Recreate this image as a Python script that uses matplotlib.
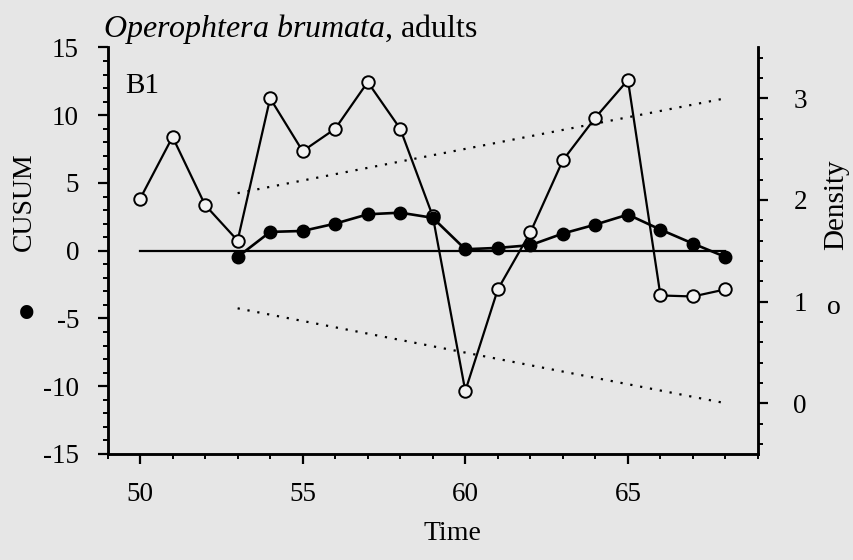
#!/usr/bin/env python3
"""CUSUM and density of Operophtera brumata adults over time."""

import matplotlib
matplotlib.use("Agg")
import matplotlib.pyplot as plt
from matplotlib.ticker import MultipleLocator

plt.rcParams["font.family"] = ["Liberation Serif", "DejaVu Serif"]
plt.rcParams["mathtext.fontset"] = "custom"
plt.rcParams["mathtext.rm"] = "Liberation Serif"
plt.rcParams["mathtext.it"] = "Liberation Serif:italic"

BG = "#e6e6e6"

# density (open circles, right axis)
density_time = [50, 51, 52, 53, 54, 55, 56, 57, 58, 59,
                60, 61, 62, 63, 64, 65, 66, 67, 68]
density = [2.01, 2.62, 1.95, 1.60, 3.00, 2.48, 2.70, 3.16, 2.70, 1.84,
           0.12, 1.12, 1.68, 2.39, 2.81, 3.18, 1.06, 1.05, 1.12]

# CUSUM (filled circles, left axis)
cusum_time = [53, 54, 55, 56, 57, 58, 59, 60, 61, 62, 63, 64, 65, 66, 67, 68]
cusum = [-0.46, 1.39, 1.46, 2.00, 2.69, 2.81, 2.43, 0.11, 0.21, 0.41,
         1.27, 1.93, 2.67, 1.56, 0.53, -0.46]

# reference line and decision limits
zero_time = [50, 68]
zero_level = [0, 0]
limit_time = [53, 68]
upper_limit = [4.25, 11.25]
lower_limit = [-4.25, -11.25]


def main() -> None:
  fig = plt.figure(figsize=(8.54, 5.6), dpi=100, facecolor=BG)
  ax = fig.add_axes([0.1259, 0.1893, 0.8876 - 0.1259, 0.9152 - 0.1893])
  ax2 = ax.twinx()

  ax2.plot(density_time, density, color="black", lw=1.6, marker="o",
           ms=9, mfc="#f2f2f2", mec="black", mew=1.4, zorder=2)
  ax2.set_ylim(-0.5, 3.5)
  ax2.set_facecolor(BG)

  ax.plot(zero_time, zero_level, color="black", lw=1.6)
  ax.plot(limit_time, upper_limit, color="black", lw=1.6, ls=(0, (1, 3.5)))
  ax.plot(limit_time, lower_limit, color="black", lw=1.6, ls=(0, (1, 3.5)))
  ax.plot(cusum_time, cusum, color="black", lw=1.9, marker="o", ms=9,
          mfc="black", mec="black")
  # filled CUSUM points sit on top of the density line
  ax.set_zorder(ax2.get_zorder() + 1)
  ax.patch.set_visible(False)

  ax.set_xlim(49, 69)
  ax.set_ylim(-15, 15)
  ax.xaxis.set_major_locator(MultipleLocator(5))
  ax.xaxis.set_minor_locator(MultipleLocator(1))
  ax.yaxis.set_major_locator(MultipleLocator(5))
  ax.yaxis.set_minor_locator(MultipleLocator(1))
  ax2.yaxis.set_major_locator(MultipleLocator(1))
  ax2.yaxis.set_minor_locator(MultipleLocator(0.2))

  for a in (ax, ax2):
    a.spines["top"].set_visible(False)
    for s in a.spines.values():
      s.set_linewidth(1.8)
    a.tick_params(which="major", length=7.5, width=1.6, labelsize=19.5, direction="out")
    a.tick_params(which="minor", length=3.5, width=1.4, direction="out")
  ax.tick_params(axis="y", which="major", pad=13)
  ax.tick_params(axis="x", which="major", pad=13)
  ax2.tick_params(axis="y", which="major", pad=18)
  ax.set_yticklabels([f"{int(v)}" for v in ax.get_yticks()])

  fig.text(103 / 854, 1 - 37 / 560, r"$\it{Operophtera\ brumata}$, adults",
           fontsize=23, ha="left", va="baseline")
  fig.text(125 / 854, 1 - 93 / 560, "B1", fontsize=21, ha="left", va="baseline")
  fig.text(24 / 854, 1 - 202 / 560, "CUSUM", fontsize=20, rotation=90,
           ha="center", va="center")
  fig.text(27 / 854, 1 - 317 / 560, "\u2022", fontsize=40, ha="center", va="center")
  fig.text(836 / 854, 1 - 205 / 560, "Density", fontsize=21, rotation=90,
           ha="center", va="center")
  fig.text(834 / 854, 1 - 308 / 560, "o", fontsize=20, ha="center", va="center")
  fig.text(452 / 854, 1 - 533 / 560, "Time", fontsize=20, ha="center", va="center")

  fig.savefig("out.png", dpi=100, facecolor=BG)


if __name__ == "__main__":
  main()
